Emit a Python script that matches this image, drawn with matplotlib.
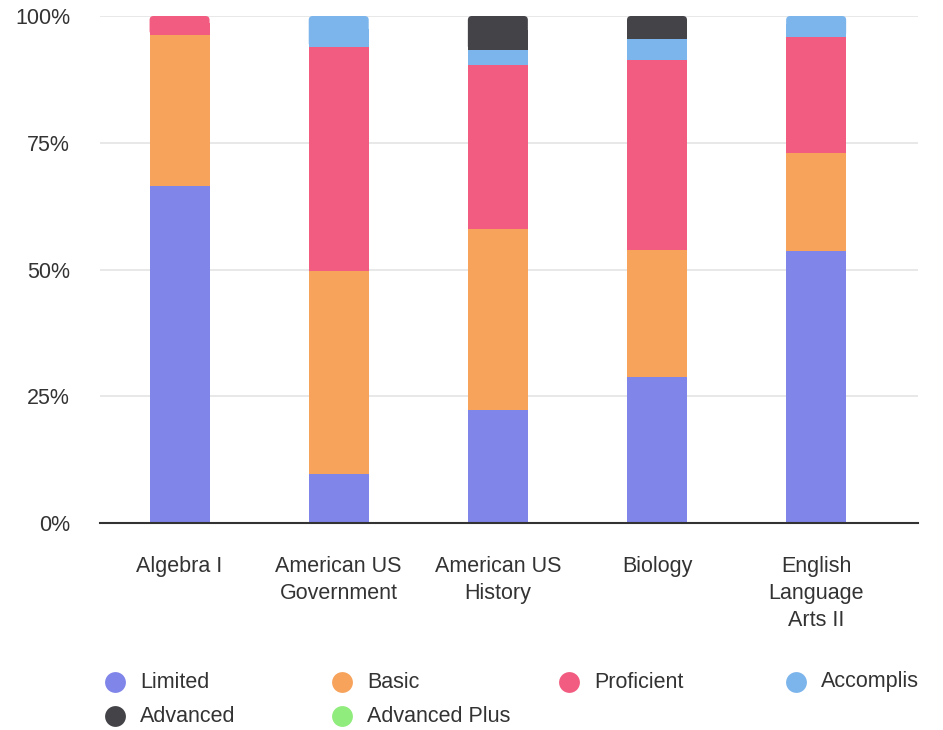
import matplotlib.pyplot as plt
from matplotlib.patches import FancyBboxPatch, Rectangle
from matplotlib.lines import Line2D
from matplotlib.transforms import Bbox
import numpy as np

plt.rcParams['font.family'] = ['Liberation Sans', 'DejaVu Sans']

categories = ['Algebra I', 'American US\nGovernment', 'American US\nHistory',
              'Biology', 'English\nLanguage\nArts II']
levels = ['Limited', 'Basic', 'Proficient', 'Accomplished', 'Advanced', 'Advanced Plus']
colors = ['#8085e9', '#f7a35c', '#f15c80', '#7cb5ec', '#434348', '#90ed7d']

limited = [66.5, 9.7, 22.3, 28.8, 53.6]
basic = [29.8, 40.0, 35.7, 25.0, 19.4]
proficient = [3.7, 44.2, 32.3, 37.5, 22.9]
accomplished = [0.0, 6.1, 3.0, 4.2, 4.1]
advanced = [0.0, 0.0, 6.7, 4.5, 0.0]
advanced_plus = [0.0, 0.0, 0.0, 0.0, 0.0]

series = [limited, basic, proficient, accomplished, advanced, advanced_plus]

fig = plt.figure(figsize=(9.43, 7.3), dpi=100)
ax = fig.add_axes([100 / 943, 1 - 523 / 730, 818 / 943, 507 / 730])

x = np.arange(len(categories))
width = 0.377
rx = 4 / 159          # corner radius in x data units
ry = 4 / 5.07         # corner radius in y data units

bottoms = np.zeros(len(categories))
totals = np.sum(series, axis=0)
for vals, col in zip(series, colors):
    vals = np.array(vals, dtype=float)
    for i in range(len(categories)):
        if vals[i] <= 0:
            continue
        b = bottoms[i]
        top = b + vals[i]
        if abs(top - totals[i]) < 1e-6:
            # top segment, rounded top corners
            p = FancyBboxPatch((x[i] - width / 2 + rx, b + ry), width - 2 * rx, vals[i] - 2 * ry,
                               boxstyle=f"round,pad={rx},rounding_size={rx}",
                               mutation_aspect=ry / rx, facecolor=col, edgecolor='none', zorder=3)
            ax.add_patch(p)
            ax.add_patch(Rectangle((x[i] - width / 2, b), width, min(vals[i], vals[i] / 2 + 0.5),
                                   facecolor=col, edgecolor='none', zorder=3))
        else:
            ax.add_patch(Rectangle((x[i] - width / 2, b), width, vals[i],
                                   facecolor=col, edgecolor='none', zorder=3))
    bottoms += vals

ax.set_xlim(-0.5, 4.64)
ax.set_ylim(0, 100)
ax.set_yticks([0, 25, 50, 75, 100])
ax.set_yticklabels(['0%', '25%', '50%', '75%', '100%'])
ax.set_xticks(x)
ax.set_xticklabels(categories, linespacing=1.37, va='top')
ax.tick_params(axis='y', length=0, pad=21.5, labelsize=15.5, labelcolor='#333333')
ax.tick_params(axis='x', length=0, pad=24, labelsize=15.5, labelcolor='#333333')
ax.grid(axis='y', color='#e6e6e6', linewidth=1.3, zorder=0)
ax.set_axisbelow(True)
for s in ['top', 'right', 'left']:
    ax.spines[s].set_visible(False)
ax.spines['bottom'].set_color('#333333')
ax.spines['bottom'].set_linewidth(1.5)
ax.spines['bottom'].set_zorder(4)

# legend placed manually, cut at the right edge of the chart like the original
clip = Bbox.from_extents(0, 0, 918, 730)
col_x = [115, 342, 569, 796]
row_y = [682, 716]
for k, (lab, col) in enumerate(zip(levels, colors)):
    cx = col_x[k % 4]
    cy = row_y[k // 4]
    fig.add_artist(Line2D([cx / 943], [1 - cy / 730], marker='o', markersize=15,
                          markerfacecolor=col, markeredgecolor='none', linestyle='none'))
    t = fig.text((cx + 25) / 943, 1 - cy / 730, lab, fontsize=15.5, color='#333333',
                 va='center', ha='left')
    t.set_clip_box(clip)
    t.set_clip_on(True)

fig.savefig('out.png', dpi=100)
